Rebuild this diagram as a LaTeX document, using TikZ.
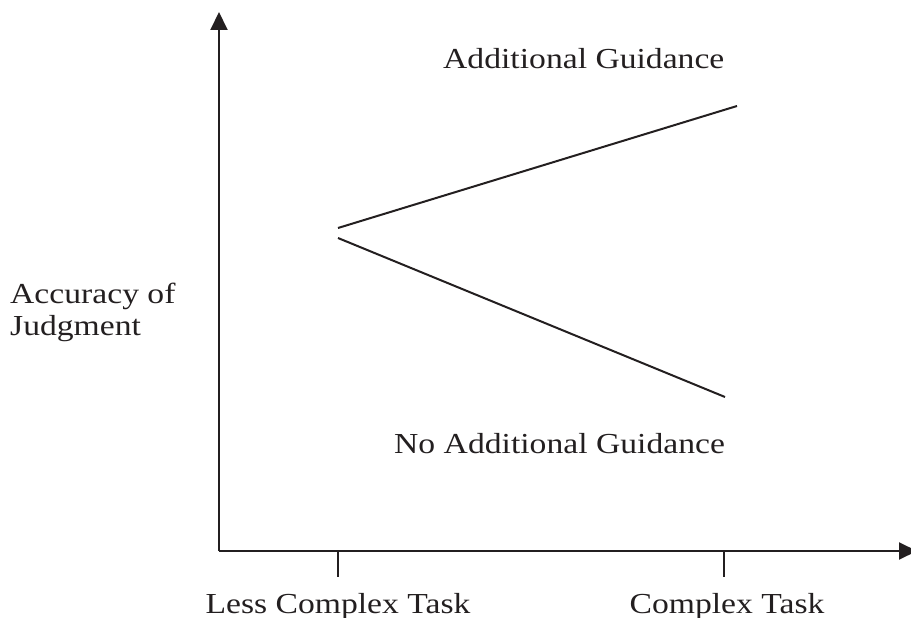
\documentclass[tikz,border=0pt]{standalone}
\usepackage{fontspec}
\setmainfont{Liberation Serif}
\usetikzlibrary{arrows.meta}
\definecolor{ink}{RGB}{35,31,32}
\newcommand{\wide}[1]{\scalebox{1.16}[1]{#1}}
\begin{document}
\begin{tikzpicture}[x=1pt,y=-1pt,
  axis/.style={draw=ink,line width=2pt,-{Triangle[length=18pt,width=17pt]}},
  trend/.style={draw=ink,line width=2pt},
  tick/.style={draw=ink,line width=2pt},
  lbl/.style={inner sep=0pt,text=ink,font=\fontsize{29}{33}\selectfont},
]
\useasboundingbox (0,0) rectangle (911,618);
% axes
\coordinate (origin) at (219,551);
\coordinate (ytop) at (219,12);
\coordinate (xend) at (917,551);
\draw[axis] (origin) -- (ytop);
\draw[axis] (origin) -- (xend);
% ticks on the x axis
\coordinate (t1) at (338,551);
\coordinate (t1b) at (338,577);
\coordinate (t2) at (724,551);
\coordinate (t2b) at (724,577);
\draw[tick] (t1) -- (t1b);
\draw[tick] (t2) -- (t2b);
% the two lines
\coordinate (ga) at (338,228);
\coordinate (gb) at (737,106);
\coordinate (na) at (338,238);
\coordinate (nb) at (725,397);
\draw[trend] (ga) -- (gb);
\draw[trend] (na) -- (nb);
% labels
\node[lbl,anchor=base west] (addg) at (443,69) {\wide{Additional Guidance}};
\node[lbl,anchor=base west] (noadd) at (394,453) {\wide{No Additional Guidance}};
\node[lbl,anchor=base west] (acc1) at (10,303) {\wide{Accuracy of}};
\node[lbl,anchor=base west] (acc2) at (10,335) {\wide{Judgment}};
\node[lbl,anchor=base] (less) at (338,613) {\wide{Less Complex Task}};
\node[lbl,anchor=base] (comp) at (727,613) {\wide{Complex Task}};
\end{tikzpicture}
\end{document}
